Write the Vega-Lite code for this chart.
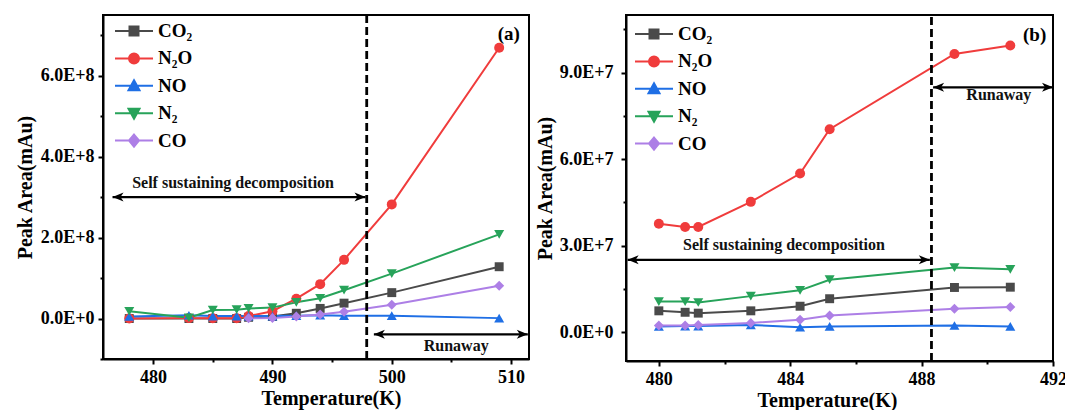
{
  "$schema": "https://vega.github.io/schema/vega-lite/v6.json",
  "background": "white",
  "padding": {"left": 14, "top": 12, "right": 5, "bottom": 0},
  "config": {
    "font": "Liberation Serif",
    "view": {"stroke": "black", "strokeWidth": 2},
    "concat": {"spacing": 4},
    "axis": {
      "grid": false, "domainColor": "black", "domainWidth": 2, "tickColor": "black", "tickWidth": 2,
      "labelFont": "Liberation Serif", "labelFontWeight": "bold", "labelFontSize": 18, "labelColor": "black",
      "labelPadding": 4, "labelFlush": false, "labelOverlap": false, "labelBound": false,
      "titleFont": "Liberation Serif", "titleFontWeight": "bold", "titleFontSize": 20, "titleColor": "black", "titlePadding": 2
    },
    "legend": {
      "labelFont": "Liberation Serif", "labelFontWeight": "bold", "labelFontSize": 19, "labelColor": "black"
    }
  },
  "datasets": {
    "linesA": [
      {"gas": "CO₂", "T": 478, "v": 0}, {"gas": "CO₂", "T": 483, "v": 0}, {"gas": "CO₂", "T": 485, "v": 0}, {"gas": "CO₂", "T": 487, "v": 0}, {"gas": "CO₂", "T": 488, "v": 3e6}, {"gas": "CO₂", "T": 490, "v": 5e6}, {"gas": "CO₂", "T": 492, "v": 1.3e7}, {"gas": "CO₂", "T": 494, "v": 2.5e7}, {"gas": "CO₂", "T": 496, "v": 3.8e7}, {"gas": "CO₂", "T": 500, "v": 6.4e7}, {"gas": "CO₂", "T": 509, "v": 1.28e8},
      {"gas": "N₂O", "T": 478, "v": 0}, {"gas": "N₂O", "T": 483, "v": 1e6}, {"gas": "N₂O", "T": 485, "v": 5e5}, {"gas": "N₂O", "T": 487, "v": 5e5}, {"gas": "N₂O", "T": 488, "v": 6e6}, {"gas": "N₂O", "T": 490, "v": 1.8e7}, {"gas": "N₂O", "T": 492, "v": 4.9e7}, {"gas": "N₂O", "T": 494, "v": 8.5e7}, {"gas": "N₂O", "T": 496, "v": 1.45e8}, {"gas": "N₂O", "T": 500, "v": 2.82e8}, {"gas": "N₂O", "T": 509, "v": 6.69e8},
      {"gas": "NO", "T": 478, "v": 5e6}, {"gas": "NO", "T": 483, "v": 8e6}, {"gas": "NO", "T": 485, "v": 6e6}, {"gas": "NO", "T": 487, "v": 6e6}, {"gas": "NO", "T": 488, "v": 6e6}, {"gas": "NO", "T": 490, "v": 6e6}, {"gas": "NO", "T": 492, "v": 7e6}, {"gas": "NO", "T": 494, "v": 8e6}, {"gas": "NO", "T": 496, "v": 7e6}, {"gas": "NO", "T": 500, "v": 7e6}, {"gas": "NO", "T": 509, "v": 1e6},
      {"gas": "N₂", "T": 478, "v": 1.8e7}, {"gas": "N₂", "T": 483, "v": 2e6}, {"gas": "N₂", "T": 485, "v": 2.1e7}, {"gas": "N₂", "T": 487, "v": 2.2e7}, {"gas": "N₂", "T": 488, "v": 2.5e7}, {"gas": "N₂", "T": 490, "v": 2.7e7}, {"gas": "N₂", "T": 492, "v": 4e7}, {"gas": "N₂", "T": 494, "v": 5e7}, {"gas": "N₂", "T": 496, "v": 7e7}, {"gas": "N₂", "T": 500, "v": 1.11e8}, {"gas": "N₂", "T": 509, "v": 2.08e8},
      {"gas": "CO", "T": 488, "v": 5e5}, {"gas": "CO", "T": 490, "v": 1e6}, {"gas": "CO", "T": 492, "v": 5e6}, {"gas": "CO", "T": 494, "v": 1e7}, {"gas": "CO", "T": 496, "v": 1.7e7}, {"gas": "CO", "T": 500, "v": 3.4e7}, {"gas": "CO", "T": 509, "v": 8.1e7}
    ],
    "linesB": [
      {"gas": "CO₂", "T": 480, "v": 7.4e6}, {"gas": "CO₂", "T": 480.8, "v": 6.9e6}, {"gas": "CO₂", "T": 481.2, "v": 6.6e6}, {"gas": "CO₂", "T": 482.8, "v": 7.4e6}, {"gas": "CO₂", "T": 484.3, "v": 9.0e6}, {"gas": "CO₂", "T": 485.2, "v": 1.16e7}, {"gas": "CO₂", "T": 489, "v": 1.55e7}, {"gas": "CO₂", "T": 490.7, "v": 1.56e7},
      {"gas": "N₂O", "T": 480, "v": 3.76e7}, {"gas": "N₂O", "T": 480.8, "v": 3.65e7}, {"gas": "N₂O", "T": 481.2, "v": 3.65e7}, {"gas": "N₂O", "T": 482.8, "v": 4.52e7}, {"gas": "N₂O", "T": 484.3, "v": 5.5e7}, {"gas": "N₂O", "T": 485.2, "v": 7.04e7}, {"gas": "N₂O", "T": 489, "v": 9.65e7}, {"gas": "N₂O", "T": 490.7, "v": 9.94e7},
      {"gas": "NO", "T": 480, "v": 2.0e6}, {"gas": "NO", "T": 480.8, "v": 2.1e6}, {"gas": "NO", "T": 481.2, "v": 2.1e6}, {"gas": "NO", "T": 482.8, "v": 2.5e6}, {"gas": "NO", "T": 484.3, "v": 1.7e6}, {"gas": "NO", "T": 485.2, "v": 2.0e6}, {"gas": "NO", "T": 489, "v": 2.3e6}, {"gas": "NO", "T": 490.7, "v": 2.0e6},
      {"gas": "N₂", "T": 480, "v": 1.06e7}, {"gas": "N₂", "T": 480.8, "v": 1.06e7}, {"gas": "N₂", "T": 481.2, "v": 1.03e7}, {"gas": "N₂", "T": 482.8, "v": 1.25e7}, {"gas": "N₂", "T": 484.3, "v": 1.45e7}, {"gas": "N₂", "T": 485.2, "v": 1.82e7}, {"gas": "N₂", "T": 489, "v": 2.24e7}, {"gas": "N₂", "T": 490.7, "v": 2.18e7},
      {"gas": "CO", "T": 480, "v": 2.3e6}, {"gas": "CO", "T": 480.8, "v": 2.3e6}, {"gas": "CO", "T": 481.2, "v": 2.5e6}, {"gas": "CO", "T": 482.8, "v": 3.2e6}, {"gas": "CO", "T": 484.3, "v": 4.3e6}, {"gas": "CO", "T": 485.2, "v": 5.8e6}, {"gas": "CO", "T": 489, "v": 8.1e6}, {"gas": "CO", "T": 490.7, "v": 8.7e6}
    ],
    "dashA": [{"T": 497.9, "v": -1e8, "v2": 7.5e8}],
    "dashB": [{"T": 488.3, "v": -1e7, "v2": 1.1e8}],
    "arrowsA": [{"T": 476.6, "T2": 497.8, "v": 3.0e8}, {"T": 498.5, "T2": 511.4, "v": -3.9e7}],
    "arrowsB": [{"T": 479.05, "T2": 488.25, "v": 2.51e7}, {"T": 488.35, "T2": 492.0, "v": 8.49e7}],
    "headsA": [{"T": 476.6, "v": 3.0e8, "dir": "L"}, {"T": 497.8, "v": 3.0e8, "dir": "R"}, {"T": 498.5, "v": -3.9e7, "dir": "L"}, {"T": 511.4, "v": -3.9e7, "dir": "R"}],
    "headsB": [{"T": 479.05, "v": 2.51e7, "dir": "L"}, {"T": 488.25, "v": 2.51e7, "dir": "R"}, {"T": 488.35, "v": 8.49e7, "dir": "L"}, {"T": 492.0, "v": 8.49e7, "dir": "R"}],
    "textA": [{"T": 486.7, "v": 3.36e8, "label": "Self sustaining decomposition", "kind": "note"}, {"T": 505.4, "v": -6.7e7, "label": "Runaway", "kind": "note"}, {"T": 509.8, "v": 7.02e8, "label": "(a)", "kind": "tag"}],
    "textB": [{"T": 483.81, "v": 3.01e7, "label": "Self sustaining decomposition", "kind": "note"}, {"T": 490.35, "v": 8.22e7, "label": "Runaway", "kind": "note"}, {"T": 491.44, "v": 1.031e8, "label": "(b)", "kind": "tag"}]
  },
  "hconcat": [
    {
      "width": 426, "height": 344,
      "layer": [
        {
          "data": {"name": "linesA"},
          "mark": {"type": "line", "strokeWidth": 2},
          "encoding": {
            "x": {"field": "T", "type": "quantitative", "scale": {"domain": [475.8, 511.5], "nice": false, "zero": false},
              "axis": {"title": "Temperature(K)", "values": [480, 485, 490, 495, 500, 505, 510], "labelExpr": "datum.value % 10 === 0 ? datum.label : ''", "tickSize": {"condition": {"test": "datum.value % 10 !== 0", "value": 3}, "value": 5}, "titleX": 228}},
            "y": {"field": "v", "type": "quantitative", "scale": {"domain": [-1e8, 7.5e8], "nice": false, "zero": false},
              "axis": {"title": "Peak Area(mAu)", "titlePadding": 5, "values": [-1e8, 0, 1e8, 2e8, 3e8, 4e8, 5e8, 6e8, 7e8], "labelExpr": "datum.value % 2e8 === 0 ? upper(format(datum.value, '.1e')) : ''", "tickSize": {"condition": {"test": "datum.value % 2e8 !== 0", "value": 3}, "value": 5}}},
            "color": {"field": "gas", "type": "nominal",
              "scale": {"domain": ["CO₂", "N₂O", "NO", "N₂", "CO"], "range": ["#4a4a4a", "#f03c3c", "#1f6fe5", "#27a35a", "#ad7fe6"]},
              "legend": {
                "title": null, "orient": "none", "legendX": 20, "legendY": 5, "padding": 0,
                "symbolSize": 400, "symbolStrokeWidth": 2, "labelOffset": 13, "rowPadding": 6.4,
                "encode": {"symbols": {"update": {
                  "shape": {"signal": "datum.value === 'CO₂' ? 'M-1.9,0H1.9M-0.45,-0.45H0.45V0.45H-0.45Z' : datum.value === 'N₂O' ? 'M-1.9,0H1.9M0.5,0A0.5,0.5,0,1,1,-0.5,0A0.5,0.5,0,1,1,0.5,0Z' : datum.value === 'NO' ? 'M-1.9,0H1.9M0,-0.55L0.55,0.45L-0.55,0.45Z' : datum.value === 'N₂' ? 'M-1.9,0H1.9M0,0.55L0.55,-0.45L-0.55,-0.45Z' : 'M-1.9,0H1.9M0,-0.6L0.5,0L0,0.6L-0.5,0Z'"},
                  "fill": {"signal": "datum.value === 'CO₂' ? '#4a4a4a' : datum.value === 'N₂O' ? '#f03c3c' : datum.value === 'NO' ? '#1f6fe5' : datum.value === 'N₂' ? '#27a35a' : '#ad7fe6'"},
                  "stroke": {"signal": "datum.value === 'CO₂' ? '#4a4a4a' : datum.value === 'N₂O' ? '#f03c3c' : datum.value === 'NO' ? '#1f6fe5' : datum.value === 'N₂' ? '#27a35a' : '#ad7fe6'"}
                }}}
              }}
          }
        },
        {"data": {"name": "linesA"}, "transform": [{"filter": "datum.gas === 'CO₂'"}], "mark": {"type": "point", "filled": true, "size": 80, "opacity": 1, "shape": "square", "color": "#4a4a4a"},
         "encoding": {"x": {"field": "T", "type": "quantitative"}, "y": {"field": "v", "type": "quantitative"}}},
        {"data": {"name": "linesA"}, "transform": [{"filter": "datum.gas === 'N₂O'"}], "mark": {"type": "point", "filled": true, "size": 100, "opacity": 1, "shape": "circle", "color": "#f03c3c"},
         "encoding": {"x": {"field": "T", "type": "quantitative"}, "y": {"field": "v", "type": "quantitative"}}},
        {"data": {"name": "linesA"}, "transform": [{"filter": "datum.gas === 'NO'"}], "mark": {"type": "point", "filled": true, "size": 100, "opacity": 1, "shape": "triangle-up", "color": "#1f6fe5"},
         "encoding": {"x": {"field": "T", "type": "quantitative"}, "y": {"field": "v", "type": "quantitative"}}},
        {"data": {"name": "linesA"}, "transform": [{"filter": "datum.gas === 'N₂'"}], "mark": {"type": "point", "filled": true, "size": 100, "opacity": 1, "shape": "triangle-down", "color": "#27a35a"},
         "encoding": {"x": {"field": "T", "type": "quantitative"}, "y": {"field": "v", "type": "quantitative"}}},
        {"data": {"name": "linesA"}, "transform": [{"filter": "datum.gas === 'CO'"}], "mark": {"type": "point", "filled": true, "size": 100, "opacity": 1, "shape": "diamond", "color": "#ad7fe6"},
         "encoding": {"x": {"field": "T", "type": "quantitative"}, "y": {"field": "v", "type": "quantitative"}}},
        {
          "data": {"name": "dashA"},
          "mark": {"type": "rule", "color": "black", "strokeWidth": 2.8, "strokeDash": [8, 4]},
          "encoding": {"x": {"field": "T", "type": "quantitative"}, "y": {"field": "v", "type": "quantitative"}, "y2": {"field": "v2"}}
        },
        {
          "data": {"name": "arrowsA"},
          "mark": {"type": "rule", "color": "black", "strokeWidth": 2.2},
          "encoding": {"x": {"field": "T", "type": "quantitative"}, "x2": {"field": "T2"}, "y": {"field": "v", "type": "quantitative"}}
        },
        {
          "data": {"name": "headsA"},
          "transform": [{"filter": "datum.dir === 'L'"}],
          "mark": {"type": "point", "filled": true, "color": "black", "opacity": 1, "size": 4, "shape": "M0,0L11,-4.5L8,0L11,4.5Z"},
          "encoding": {"x": {"field": "T", "type": "quantitative"}, "y": {"field": "v", "type": "quantitative"}}
        },
        {
          "data": {"name": "headsA"},
          "transform": [{"filter": "datum.dir === 'R'"}],
          "mark": {"type": "point", "filled": true, "color": "black", "opacity": 1, "size": 4, "shape": "M0,0L-11,-4.5L-8,0L-11,4.5Z"},
          "encoding": {"x": {"field": "T", "type": "quantitative"}, "y": {"field": "v", "type": "quantitative"}}
        },
        {
          "data": {"name": "textA"},
          "transform": [{"filter": "datum.kind === 'note'"}],
          "mark": {"type": "text", "font": "Liberation Serif", "fontWeight": "bold", "fontSize": 16, "color": "#111", "align": "center", "baseline": "middle"},
          "encoding": {"x": {"field": "T", "type": "quantitative"}, "y": {"field": "v", "type": "quantitative"}, "text": {"field": "label"}}
        },
        {
          "data": {"name": "textA"},
          "transform": [{"filter": "datum.kind === 'tag'"}],
          "mark": {"type": "text", "font": "Liberation Serif", "fontWeight": "bold", "fontSize": 19, "color": "black", "align": "center", "baseline": "middle"},
          "encoding": {"x": {"field": "T", "type": "quantitative"}, "y": {"field": "v", "type": "quantitative"}, "text": {"field": "label"}}
        }
      ]
    },
    {
      "width": 427, "height": 346,
      "layer": [
        {
          "data": {"name": "linesB"},
          "mark": {"type": "line", "strokeWidth": 2},
          "encoding": {
            "x": {"field": "T", "type": "quantitative", "scale": {"domain": [479, 492], "nice": false, "zero": false},
              "axis": {"title": "Temperature(K)", "values": [480, 482, 484, 486, 488, 490, 492], "labelExpr": "datum.value % 4 === 0 ? datum.label : ''", "tickSize": {"condition": {"test": "datum.value % 4 !== 0", "value": 3}, "value": 5}, "titleX": 201}},
            "y": {"field": "v", "type": "quantitative", "scale": {"domain": [-1e7, 1.1e8], "nice": false, "zero": false},
              "axis": {"title": "Peak Area(mAu)", "labelPadding": 8, "titlePadding": 4, "values": [0, 1.5e7, 3e7, 4.5e7, 6e7, 7.5e7, 9e7, 1.05e8], "labelExpr": "datum.value % 3e7 === 0 ? upper(format(datum.value, '.1e')) : ''", "tickSize": {"condition": {"test": "datum.value % 3e7 !== 0", "value": 3}, "value": 5}}},
            "color": {"field": "gas", "type": "nominal",
              "scale": {"domain": ["CO₂", "N₂O", "NO", "N₂", "CO"], "range": ["#4a4a4a", "#f03c3c", "#1f6fe5", "#27a35a", "#ad7fe6"]},
              "legend": {
                "title": null, "orient": "none", "legendX": 17, "legendY": 8, "padding": 0,
                "symbolSize": 400, "symbolStrokeWidth": 2, "labelOffset": 13, "rowPadding": 6.4,
                "encode": {"symbols": {"update": {
                  "shape": {"signal": "datum.value === 'CO₂' ? 'M-1.9,0H1.9M-0.45,-0.45H0.45V0.45H-0.45Z' : datum.value === 'N₂O' ? 'M-1.9,0H1.9M0.5,0A0.5,0.5,0,1,1,-0.5,0A0.5,0.5,0,1,1,0.5,0Z' : datum.value === 'NO' ? 'M-1.9,0H1.9M0,-0.55L0.55,0.45L-0.55,0.45Z' : datum.value === 'N₂' ? 'M-1.9,0H1.9M0,0.55L0.55,-0.45L-0.55,-0.45Z' : 'M-1.9,0H1.9M0,-0.6L0.5,0L0,0.6L-0.5,0Z'"},
                  "fill": {"signal": "datum.value === 'CO₂' ? '#4a4a4a' : datum.value === 'N₂O' ? '#f03c3c' : datum.value === 'NO' ? '#1f6fe5' : datum.value === 'N₂' ? '#27a35a' : '#ad7fe6'"},
                  "stroke": {"signal": "datum.value === 'CO₂' ? '#4a4a4a' : datum.value === 'N₂O' ? '#f03c3c' : datum.value === 'NO' ? '#1f6fe5' : datum.value === 'N₂' ? '#27a35a' : '#ad7fe6'"}
                }}}
              }}
          }
        },
        {"data": {"name": "linesB"}, "transform": [{"filter": "datum.gas === 'CO₂'"}], "mark": {"type": "point", "filled": true, "size": 80, "opacity": 1, "shape": "square", "color": "#4a4a4a"},
         "encoding": {"x": {"field": "T", "type": "quantitative"}, "y": {"field": "v", "type": "quantitative"}}},
        {"data": {"name": "linesB"}, "transform": [{"filter": "datum.gas === 'N₂O'"}], "mark": {"type": "point", "filled": true, "size": 100, "opacity": 1, "shape": "circle", "color": "#f03c3c"},
         "encoding": {"x": {"field": "T", "type": "quantitative"}, "y": {"field": "v", "type": "quantitative"}}},
        {"data": {"name": "linesB"}, "transform": [{"filter": "datum.gas === 'NO'"}], "mark": {"type": "point", "filled": true, "size": 100, "opacity": 1, "shape": "triangle-up", "color": "#1f6fe5"},
         "encoding": {"x": {"field": "T", "type": "quantitative"}, "y": {"field": "v", "type": "quantitative"}}},
        {"data": {"name": "linesB"}, "transform": [{"filter": "datum.gas === 'N₂'"}], "mark": {"type": "point", "filled": true, "size": 100, "opacity": 1, "shape": "triangle-down", "color": "#27a35a"},
         "encoding": {"x": {"field": "T", "type": "quantitative"}, "y": {"field": "v", "type": "quantitative"}}},
        {"data": {"name": "linesB"}, "transform": [{"filter": "datum.gas === 'CO'"}], "mark": {"type": "point", "filled": true, "size": 100, "opacity": 1, "shape": "diamond", "color": "#ad7fe6"},
         "encoding": {"x": {"field": "T", "type": "quantitative"}, "y": {"field": "v", "type": "quantitative"}}},
        {
          "data": {"name": "dashB"},
          "mark": {"type": "rule", "color": "black", "strokeWidth": 2.8, "strokeDash": [8, 4]},
          "encoding": {"x": {"field": "T", "type": "quantitative"}, "y": {"field": "v", "type": "quantitative"}, "y2": {"field": "v2"}}
        },
        {
          "data": {"name": "arrowsB"},
          "mark": {"type": "rule", "color": "black", "strokeWidth": 2.2},
          "encoding": {"x": {"field": "T", "type": "quantitative"}, "x2": {"field": "T2"}, "y": {"field": "v", "type": "quantitative"}}
        },
        {
          "data": {"name": "headsB"},
          "transform": [{"filter": "datum.dir === 'L'"}],
          "mark": {"type": "point", "filled": true, "color": "black", "opacity": 1, "size": 4, "shape": "M0,0L11,-4.5L8,0L11,4.5Z"},
          "encoding": {"x": {"field": "T", "type": "quantitative"}, "y": {"field": "v", "type": "quantitative"}}
        },
        {
          "data": {"name": "headsB"},
          "transform": [{"filter": "datum.dir === 'R'"}],
          "mark": {"type": "point", "filled": true, "color": "black", "opacity": 1, "size": 4, "shape": "M0,0L-11,-4.5L-8,0L-11,4.5Z"},
          "encoding": {"x": {"field": "T", "type": "quantitative"}, "y": {"field": "v", "type": "quantitative"}}
        },
        {
          "data": {"name": "textB"},
          "transform": [{"filter": "datum.kind === 'note'"}],
          "mark": {"type": "text", "font": "Liberation Serif", "fontWeight": "bold", "fontSize": 16, "color": "#111", "align": "center", "baseline": "middle"},
          "encoding": {"x": {"field": "T", "type": "quantitative"}, "y": {"field": "v", "type": "quantitative"}, "text": {"field": "label"}}
        },
        {
          "data": {"name": "textB"},
          "transform": [{"filter": "datum.kind === 'tag'"}],
          "mark": {"type": "text", "font": "Liberation Serif", "fontWeight": "bold", "fontSize": 19, "color": "black", "align": "center", "baseline": "middle"},
          "encoding": {"x": {"field": "T", "type": "quantitative"}, "y": {"field": "v", "type": "quantitative"}, "text": {"field": "label"}}
        }
      ]
    }
  ],
  "resolve": {"scale": {"color": "independent"}}
}
